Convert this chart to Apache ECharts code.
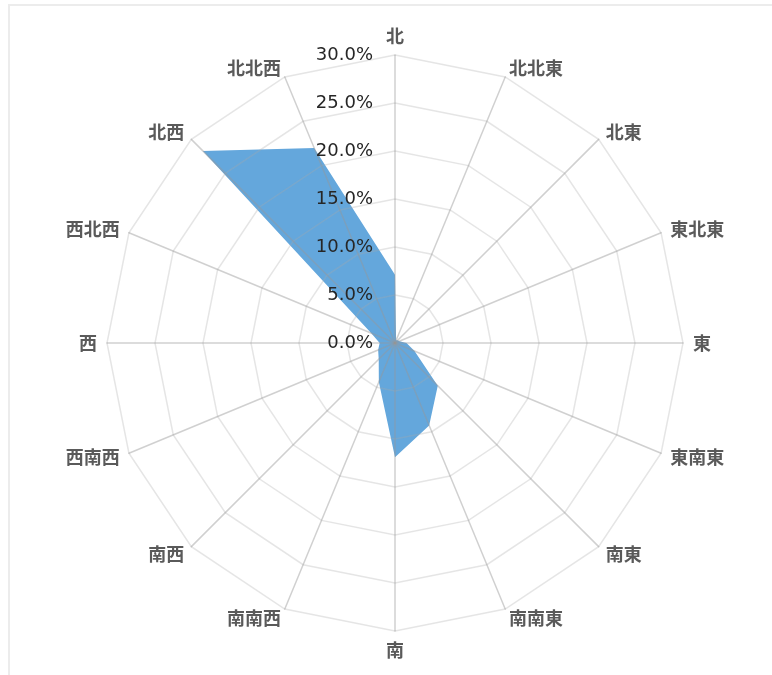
<!DOCTYPE html>
<html>
<head>
<meta charset="utf-8">
<script src="https://cdn.jsdelivr.net/npm/echarts@6/dist/echarts.min.js"></script>
<style>
html,body{margin:0;padding:0;background:#fff;}
#frame{position:absolute;left:8px;top:4px;width:800px;height:700px;border-top:2px solid #ececec;border-left:2px solid #ececec;}
#chart{position:absolute;left:0;top:0;width:772px;height:675px;}
</style>
</head>
<body>
<div id="frame"></div>
<div id="chart"></div>
<script>
// Directions, clockwise from north
const directions = ['北','北北東','北東','東北東','東','東南東','南東','南南東','南','南南西','南西','西南西','西','西北西','北西','北北西'];
// Frequency (%) per direction, same order
const values = [7.1, 0.3, 0.4, 0.5, 1.2, 2.2, 6.3, 9.3, 11.9, 4.4, 2.4, 1.9, 1.6, 2.7, 28.3, 22.0];
const maxValue = 30;
const tickStep = 5;

// ECharts radar places indicators counter-clockwise: reverse everything except the first (北)
const order = [0].concat(directions.map((_, i) => i).slice(1).reverse());
const indicators = order.map((i, k) => {
  const ind = { name: directions[i], max: maxValue, min: 0 };
  if (k === 0) ind.axisLabel = { show: true };
  return ind;
});
const seriesValues = order.map(i => values[i]);

const chart = echarts.init(document.getElementById('chart'));
chart.setOption({
  animation: false,
  radar: {
    z: 5,
    center: [395, 343],
    radius: 288,
    startAngle: 90,
    shape: 'polygon',
    splitNumber: maxValue / tickStep,
    nameGap: 10,
    axisName: {
      color: '#5a5a5a',
      fontSize: 18,
      fontWeight: 'bold',
      fontFamily: 'Noto Sans CJK JP'
    },
    axisLine: { lineStyle: { color: 'rgba(150,150,150,0.45)', width: 1.5 } },
    splitLine: { lineStyle: { color: 'rgba(170,170,170,0.3)', width: 1.5 } },
    splitArea: { show: false },
    axisTick: { show: false },
    axisLabel: {
      show: false,
      color: '#262626',
      fontSize: 18,
      fontFamily: 'DejaVu Sans',
      margin: 22,
      align: 'right',
      formatter: v => v.toFixed(1) + '%'
    },
    indicator: indicators
  },
  series: [{
    type: 'radar',
    z: 1,
    symbol: 'none',
    lineStyle: { width: 0 },
    areaStyle: { color: '#64a7dc', opacity: 1 },
    data: [{ value: seriesValues, name: '風向' }]
  }]
});
</script>
</body>
</html>
